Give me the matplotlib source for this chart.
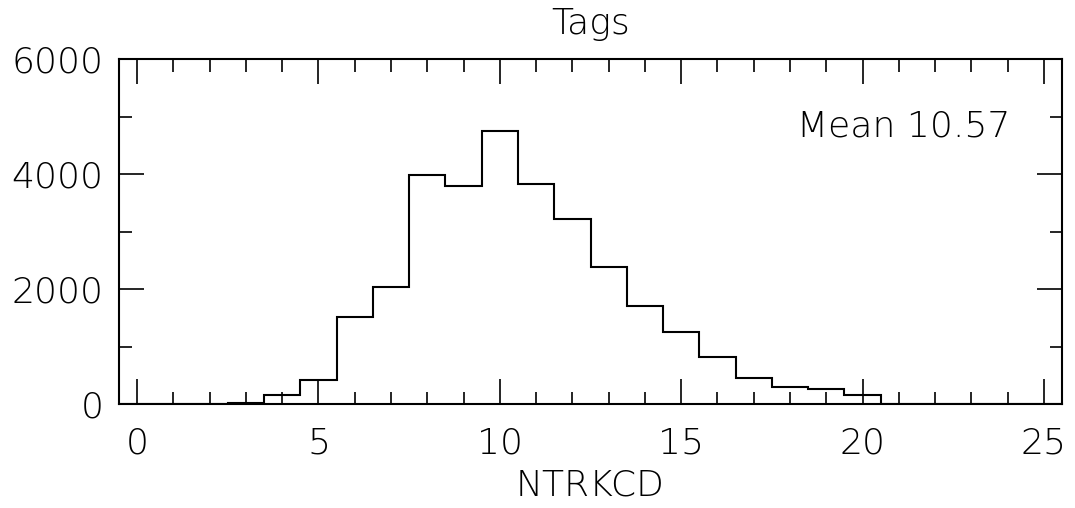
import matplotlib
matplotlib.use("Agg")
import matplotlib.pyplot as plt
import numpy as np

# Histogram of NTRKCD (bins centred on integers)
bin_centers = list(range(0, 26))
counts = [0, 0, 0, 20, 168, 421, 1513, 2045, 3991, 3790, 4743, 3830, 3224,
          2380, 1716, 1253, 820, 456, 300, 260, 156, 0, 0, 0, 0, 0]
x_major = [0, 5, 10, 15, 20, 25]
y_major = [0, 2000, 4000, 6000]
title = "Tags"
xlabel = "NTRKCD"
mean_label = "Mean 10.57"

plt.rcParams['font.family'] = ['DejaVu Sans']
fs = 26

fig = plt.figure(figsize=(10.75, 5.08), dpi=100)
ax = fig.add_axes([119/1075, 1-404.3/508, (1062-119)/1075, (404.3-59)/508])

edges = np.array(bin_centers + [bin_centers[-1] + 1]) - 0.5
ax.stairs(counts, edges, color='black', linewidth=1.5, baseline=0)

ax.set_xlim(-0.5, 25.5)
ax.set_ylim(0, 6000)
ax.set_xticks(x_major)
ax.set_yticks(y_major)
ax.set_xticks(np.arange(0, 26, 1), minor=True)
ax.set_yticks(np.arange(0, 6001, 1000), minor=True)

for s in ax.spines.values():
    s.set_linewidth(1.5)

ax.tick_params(which='both', direction='in', top=True, right=True, width=1.2, color='black')
ax.tick_params(which='major', length=18)
ax.tick_params(which='minor', length=9)
ax.tick_params(axis='x', which='major', pad=16, labelsize=fs)
ax.tick_params(axis='y', which='major', pad=11, labelsize=fs)
for lab in ax.get_xticklabels() + ax.get_yticklabels():
    lab.set_fontweight('light')

ax.set_title(title, fontsize=fs, fontweight='light', pad=18)
ax.set_xlabel(xlabel, fontsize=fs, fontweight='light', labelpad=6)
ax.text(0.945, 0.777, mean_label, transform=ax.transAxes, ha='right', va='baseline',
        fontsize=fs, fontweight='light')

fig.savefig("out.png", dpi=100)
